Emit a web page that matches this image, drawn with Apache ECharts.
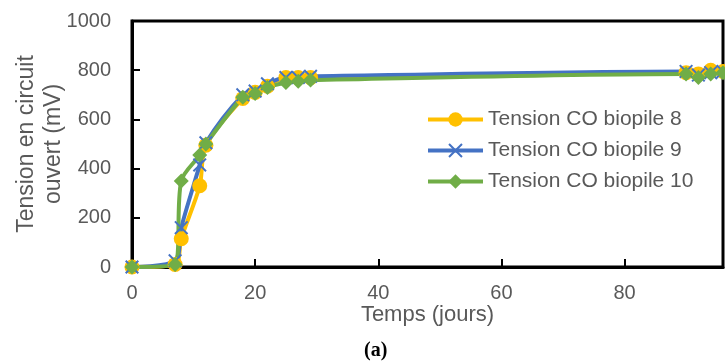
<!DOCTYPE html>
<html>
<head>
<meta charset="utf-8">
<script src="https://cdn.jsdelivr.net/npm/echarts@6/dist/echarts.min.js"></script>
<style>
  html, body { margin: 0; padding: 0; background: #fff; }
  #chart { width: 725px; height: 363px; }
</style>
</head>
<body>
<div id="chart"></div>
<script>
// jours de mesure
const days = [0, 7, 8, 11, 12, 18, 20, 22, 25, 27, 29, 90, 92, 94, 96]
// tension en circuit ouvert (mV)
const biopile8 = [0, 10, 115, 330, 495, 685, 710, 735, 770, 770, 770, 790, 785, 800, 795]
const biopile9 = [0, 25, 160, 415, 505, 700, 715, 745, 770, 770, 775, 795, 780, 790, 795]
const biopile10 = [0, 10, 350, 455, 500, 690, 705, 730, 750, 755, 760, 785, 770, 785, 790]
const yTicks = [0, 200, 400, 600, 800, 1000]

const names = ['Tension CO biopile 8', 'Tension CO biopile 9', 'Tension CO biopile 10']
const colors = ['#FFC000', '#4472C4', '#70AD47']
const crossPath = 'path://M0,1L1,0L5,4L9,0L10,1L6,5L10,9L9,10L5,6L1,10L0,9L4,5Z'

const font = 'Liberation Sans'
const grey = '#595959'

function pairs(vals) {
  return days.map((d, i) => [d, vals[i]])
}

function makeSeries(name, vals, color, symbol, size) {
  return {
    name: name,
    type: 'line',
    data: pairs(vals),
    smooth: 0.3,
    symbol: symbol,
    symbolSize: size,
    showAllSymbol: true,
    lineStyle: { color: color, width: 4 },
    itemStyle: { color: color },
    emphasis: { disabled: true },
  }
}

const chart = echarts.init(document.getElementById('chart'), null, { renderer: 'canvas' })

chart.setOption({
  backgroundColor: '#fff',
  animation: false,
  color: colors,
  grid: {
    left: 132,
    right: 2,
    top: 21,
    bottom: 96,
    show: true,
    borderColor: '#000',
    borderWidth: 3,
    containLabel: false,
    outerBoundsMode: 'none',
  },
  legend: {
    orient: 'vertical',
    left: 421,
    top: 104,
    padding: 5,
    itemWidth: 55,
    itemHeight: 18,
    itemGap: 10,
    data: names,
    lineStyle: { width: 4 },
    textStyle: { fontFamily: font, fontSize: 21, color: grey },
  },
  graphic: [
    {
      type: 'text',
      left: 295,
      top: -15,
      style: { text: 'résistance interne', font: 'bold 18px "Liberation Serif"', fill: '#333' },
    },
    {
      type: 'text',
      left: 364,
      top: 341,
      style: { text: '(a)', font: 'bold 20px "Liberation Serif"', fill: '#000' },
    },
  ],
  xAxis: {
    type: 'value',
    min: 0,
    max: 96,
    interval: 20,
    name: 'Temps (jours)',
    nameLocation: 'middle',
    nameGap: 37,
    nameMoveOverlap: false,
    nameTextStyle: { fontFamily: font, fontSize: 22, color: grey },
    axisLine: { lineStyle: { color: '#000', width: 3 } },
    axisTick: { inside: true, length: 8, lineStyle: { color: '#000', width: 2 } },
    axisLabel: {
      fontFamily: font,
      fontSize: 20,
      color: grey,
      margin: 16,
      showMaxLabel: false,
    },
    splitLine: { show: false },
  },
  yAxis: {
    type: 'value',
    min: 0,
    max: 1000,
    interval: 200,
    name: 'Tension en circuit\nouvert (mV)',
    nameLocation: 'middle',
    nameGap: 65,
    nameMoveOverlap: false,
    nameTextStyle: { fontFamily: font, fontSize: 23, color: grey, lineHeight: 27 },
    axisLine: { lineStyle: { color: '#000', width: 3 } },
    axisTick: { inside: true, length: 8, lineStyle: { color: '#000', width: 2 } },
    axisLabel: {
      fontFamily: font,
      fontSize: 20,
      color: grey,
      margin: 21,
      formatter: (v) => (yTicks.indexOf(v) >= 0 ? String(v) : ''),
    },
    splitLine: { show: false },
  },
  series: [
    makeSeries(names[0], biopile8, colors[0], 'circle', 15),
    makeSeries(names[1], biopile9, colors[1], crossPath, 14),
    makeSeries(names[2], biopile10, colors[2], 'diamond', 15),
  ],
})
</script>
</body>
</html>
